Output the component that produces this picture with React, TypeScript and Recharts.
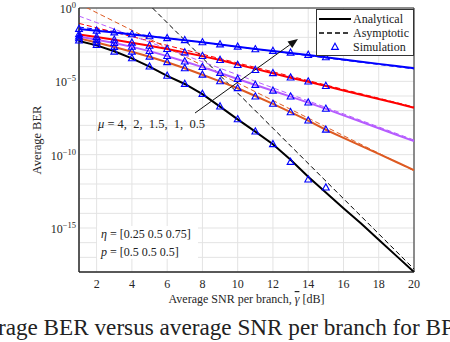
import React from "react";
import {
  LineChart,
  Line,
  XAxis,
  YAxis,
  CartesianGrid,
  ReferenceArea,
  ReferenceLine,
} from "recharts";

// SNR per branch [dB]
const snr = [1, 2, 3, 4, 5, 6, 7, 8, 9, 10, 11, 12, 13, 14, 15, 16, 17, 18, 19, 20];

// log10(BER) of the analytical curves
const analyticMu05 = [-1.43, -1.55, -1.67, -1.8, -1.93, -2.06, -2.2, -2.34, -2.49, -2.64, -2.79, -2.93, -3.07, -3.21, -3.36, -3.51, -3.66, -3.81, -3.96, -4.11];
const analyticMu1 = [-1.8, -1.98, -2.17, -2.37, -2.58, -2.8, -3.03, -3.28, -3.55, -3.85, -4.15, -4.45, -4.75, -5.03, -5.32, -5.62, -5.92, -6.21, -6.5, -6.8];
const analyticMu15 = [-1.95, -2.16, -2.39, -2.65, -2.94, -3.28, -3.65, -4.03, -4.43, -4.84, -5.25, -5.64, -6.04, -6.45, -6.88, -7.32, -7.76, -8.2, -8.64, -9.08];
const analyticMu2 = [-2.07, -2.35, -2.66, -2.98, -3.32, -3.7, -4.11, -4.55, -5.0, -5.47, -6.0, -6.54, -7.1, -7.68, -8.3, -8.85, -9.4, -9.95, -10.5, -11.05];
const analyticMu4 = [-2.25, -2.55, -2.95, -3.43, -4.0, -4.63, -5.18, -5.87, -6.72, -7.59, -8.43, -9.29, -10.35, -11.5, -12.58, -13.65, -14.7, -15.8, -16.9, -18.0];

// simulation points (1..15 dB)
const simMu05 = [-1.43, -1.55, -1.67, -1.8, -1.93, -2.06, -2.2, -2.34, -2.49, -2.64, -2.82, -2.93, -3.05, -3.2, -3.36];
const simMu1 = [-1.8, -1.98, -2.17, -2.37, -2.58, -2.8, -3.03, -3.28, -3.55, -3.89, -4.23, -4.45, -4.75, -5.02, -5.32];
const simMu15 = [-1.95, -2.16, -2.39, -2.65, -2.94, -3.28, -3.65, -4.03, -4.43, -4.84, -5.25, -5.64, -6.04, -6.45, -6.88];
const simMu2 = [-2.07, -2.35, -2.66, -2.98, -3.32, -3.7, -4.11, -4.55, -5.0, -5.47, -6.04, -6.54, -7.11, -7.68, -8.3];
const simMu4 = [-2.22, -2.52, -2.98, -3.43, -4.0, -4.63, -5.18, -5.86, -6.72, -7.59, -8.43, -9.29, -10.5, -11.7, -12.25];

// asymptotes, straight lines between 1 dB and 20 dB
const asymSnr = [1, 20];
const asymMu05 = [-1.3, -4.15];
const asymMu1 = [-1.05, -6.75];
const asymMu15 = [-0.55, -9.0];
const asymMu2 = [0.28, -11.1];
const asymMu4 = [5.0, -17.8];

const xTicks = [2, 4, 6, 8, 10, 12, 14, 16, 18, 20];
const yTicks = [1e0, 1e-1, 1e-2, 1e-3, 1e-4, 1e-5, 1e-6, 1e-7, 1e-8, 1e-9, 1e-10, 1e-11, 1e-12, 1e-13, 1e-14, 1e-15, 1e-16, 1e-17, 1e-18];

const BLUE = "#0000ff";
const RED = "#ff0000";
const PURPLE = "#b65cff";
const ORANGE = "#dd5a22";
const FONT = "'Liberation Serif', 'Times New Roman', serif";

const pow = (v?: number | null) => (v == null ? null : Math.pow(10, v));

const data = snr.map((s, i) => {
  const j = asymSnr.indexOf(s);
  return {
    snr: s,
    a05: pow(analyticMu05[i]),
    a1: pow(analyticMu1[i]),
    a15: pow(analyticMu15[i]),
    a2: pow(analyticMu2[i]),
    a4: pow(analyticMu4[i]),
    s05: pow(simMu05[i]),
    s1: pow(simMu1[i]),
    s15: pow(simMu15[i]),
    s2: pow(simMu2[i]),
    s4: pow(simMu4[i]),
    d05: j < 0 ? null : pow(asymMu05[j]),
    d1: j < 0 ? null : pow(asymMu1[j]),
    d15: j < 0 ? null : pow(asymMu15[j]),
    d2: j < 0 ? null : pow(asymMu2[j]),
    d4: j < 0 ? null : pow(asymMu4[j]),
  };
});

const Triangle = (props: any) => {
  const { cx, cy, index } = props;
  if (cx == null || cy == null) return <g key={index} />;
  return (
    <path
      key={index}
      d={`M${cx},${cy - 3.8} L${cx + 3.4},${cy + 2.4} L${cx - 3.4},${cy + 2.4} Z`}
      fill="none"
      stroke={BLUE}
      strokeWidth={1.1}
    />
  );
};

const YTick = (props: any) => {
  const { x, y, payload } = props;
  const e = Math.round(Math.log10(payload.value));
  if (e % 5 !== 0) return <g />;
  return (
    <text x={x} y={y + 5} textAnchor="end" fontFamily={FONT} fontSize={12} fill="#262626">
      <tspan>10</tspan>
      <tspan dy={-5} fontSize={8.5}>{e === 0 ? "0" : `\u2212${-e}`}</tspan>
    </text>
  );
};

const Arrow = (props: any) => {
  const { x1, y1, x2, y2 } = props;
  const a = Math.atan2(y2 - y1, x2 - x1);
  const len = 10;
  const w = 4;
  const bx = x2 - len * Math.cos(a);
  const by = y2 - len * Math.sin(a);
  const px = -Math.sin(a) * w;
  const py = Math.cos(a) * w;
  return (
    <g>
      <line x1={x1} y1={y1} x2={bx} y2={by} stroke="#111" strokeWidth={1} />
      <polygon points={`${x2},${y2} ${bx + px},${by + py} ${bx - px},${by - py}`} fill="#111" />
    </g>
  );
};

export default function App() {
  return (
    <div
      style={{
        position: "absolute",
        left: 0,
        top: 0,
        width: 450,
        height: 342,
        overflow: "hidden",
        background: "#fff",
        fontFamily: FONT,
        color: "#222",
      }}
    >
      <LineChart
        width={450}
        height={342}
        data={data}
        margin={{ top: 8, right: 36, left: 19, bottom: 45 }}
      >
        <CartesianGrid stroke="#e3e3e3" strokeWidth={1} />
        <XAxis
          dataKey="snr"
          type="number"
          domain={[1, 20]}
          ticks={xTicks}
          interval={0}
          height={25}
          tickSize={0}
          tickMargin={7}
          axisLine={{ stroke: "#262626" }}
          tick={{ fontFamily: FONT, fontSize: 12, fill: "#262626" }}
          label={(p: any) => (
            <text
              x={p.viewBox.x + p.viewBox.width / 2}
              y={303}
              textAnchor="middle"
              fontFamily={FONT}
              fontSize={12}
              fill="#262626"
            >
              Average SNR per branch, <tspan fontStyle="italic" textDecoration="overline">γ</tspan> [dB]
            </text>
          )}
        />
        <YAxis
          scale="log"
          domain={[1e-18, 1]}
          allowDataOverflow
          ticks={yTicks}
          interval={0}
          width={60}
          tickSize={0}
          tickMargin={3}
          axisLine={{ stroke: "#262626" }}
          tick={<YTick />}
          label={() => (
            <text
              x={41}
              y={140}
              transform="rotate(-90 41 140)"
              textAnchor="middle"
              fontFamily={FONT}
              fontSize={12.5}
              fill="#262626"
            >
              Average BER
            </text>
          )}
        />

        {/* asymptotes */}
        <Line dataKey="d05" stroke={BLUE} strokeWidth={1} strokeDasharray="5 3" dot={false} connectNulls isAnimationActive={false} />
        <Line dataKey="d1" stroke={RED} strokeWidth={1} strokeDasharray="5 3" dot={false} connectNulls isAnimationActive={false} />
        <Line dataKey="d15" stroke={PURPLE} strokeWidth={1} strokeDasharray="5 3" dot={false} connectNulls isAnimationActive={false} />
        <Line dataKey="d2" stroke={ORANGE} strokeWidth={1} strokeDasharray="5 3" dot={false} connectNulls isAnimationActive={false} />
        <Line dataKey="d4" stroke="#000" strokeWidth={1} strokeDasharray="5 3" dot={false} connectNulls isAnimationActive={false} />

        {/* analytical */}
        <Line dataKey="a05" stroke={BLUE} strokeWidth={2} dot={false} isAnimationActive={false} />
        <Line dataKey="a1" stroke={RED} strokeWidth={2} dot={false} isAnimationActive={false} />
        <Line dataKey="a15" stroke={PURPLE} strokeWidth={2} dot={false} isAnimationActive={false} />
        <Line dataKey="a2" stroke={ORANGE} strokeWidth={2} dot={false} isAnimationActive={false} />
        <Line dataKey="a4" stroke="#000" strokeWidth={2} dot={false} isAnimationActive={false} />

        {/* simulation */}
        <Line dataKey="s05" stroke="none" dot={Triangle} activeDot={false} isAnimationActive={false} />
        <Line dataKey="s1" stroke="none" dot={Triangle} activeDot={false} isAnimationActive={false} />
        <Line dataKey="s15" stroke="none" dot={Triangle} activeDot={false} isAnimationActive={false} />
        <Line dataKey="s2" stroke="none" dot={Triangle} activeDot={false} isAnimationActive={false} />
        <Line dataKey="s4" stroke="none" dot={Triangle} activeDot={false} isAnimationActive={false} />

        <ReferenceLine
          segment={[
            { x: 7.58, y: Math.pow(10, -7.16) },
            { x: 13.42, y: Math.pow(10, -2.11) },
          ]}
          shape={Arrow}
        />
        <ReferenceArea x1={1} x2={20} y1={1e-18} y2={1} fill="none" stroke="#262626" strokeWidth={1} />
      </LineChart>

      {/* legend */}
      <div
        style={{
          position: "absolute",
          left: 316,
          top: 9,
          width: 96,
          height: 45,
          background: "#fff",
          border: "1px solid #333",
          fontSize: 12,
          lineHeight: "14px",
        }}
      >
        {[
          { name: "Analytical", kind: "solid" },
          { name: "Asymptotic", kind: "dash" },
          { name: "Simulation", kind: "tri" },
        ].map((it, i) => (
          <div key={i} style={{ position: "absolute", left: 0, top: 2 + i * 14, height: 14, width: 96 }}>
            <svg width={34} height={14} style={{ position: "absolute", left: 1, top: 0 }}>
              {it.kind === "solid" && <line x1={1} y1={7} x2={33} y2={7} stroke="#000" strokeWidth={2} />}
              {it.kind === "dash" && <line x1={1} y1={7} x2={33} y2={7} stroke="#000" strokeWidth={1.5} strokeDasharray="5 3" />}
              {it.kind === "tri" && <path d="M17,3.2 L20.4,9.4 L13.6,9.4 Z" fill="none" stroke={BLUE} strokeWidth={1.1} />}
            </svg>
            <span style={{ position: "absolute", left: 36, top: 0, whiteSpace: "nowrap" }}>{it.name}</span>
          </div>
        ))}
      </div>

      {/* mu annotation */}
      <div style={{ position: "absolute", left: 98, top: 117, fontSize: 12.5, whiteSpace: "pre" }}>
        <i>μ</i> = 4,  2,  1.5,  1,  0.5
      </div>

      {/* parameter box */}
      <div
        style={{
          position: "absolute",
          left: 97,
          top: 226,
          width: 101,
          height: 33,
          background: "#fff",
          fontSize: 12,
          lineHeight: "18px",
          paddingLeft: 4,
          boxSizing: "border-box",
          whiteSpace: "nowrap",
        }}
      >
        <div style={{ marginTop: -1 }}>
          <i>η</i> = [0.25 0.5 0.75]
        </div>
        <div>
          <i>p</i> = [0.5 0.5 0.5]
        </div>
      </div>

      {/* caption, cut by the frame */}
      <div
        style={{
          position: "absolute",
          left: -39,
          top: 314,
          fontSize: 23.2,
          whiteSpace: "nowrap",
          color: "#222",
        }}
      >
        Average BER versus average SNR per branch for BPSK
      </div>
    </div>
  );
}
